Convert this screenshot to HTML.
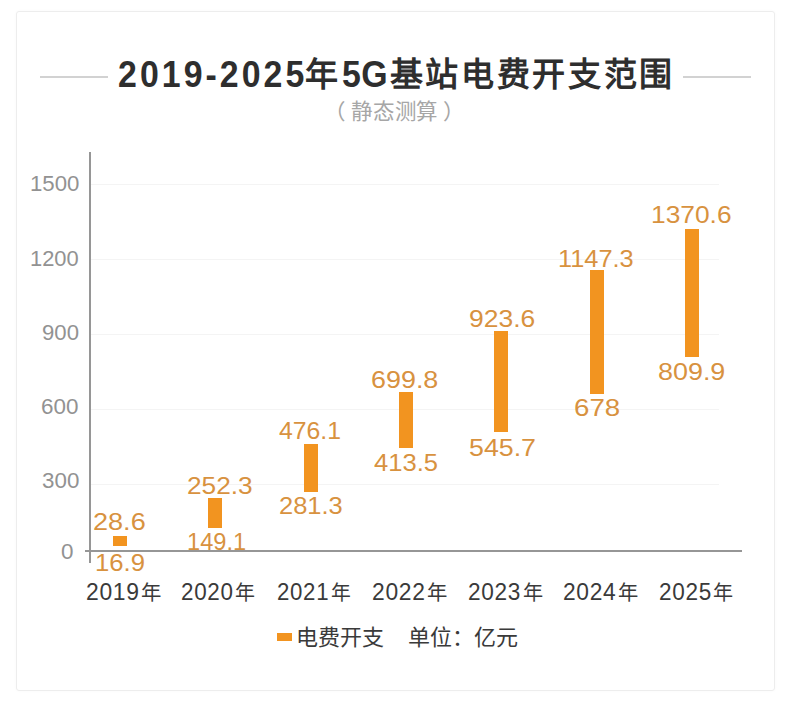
<!DOCTYPE html>
<html lang="zh-CN">
<head>
<meta charset="utf-8">
<style>
html,body{margin:0;padding:0;background:#fff;}
body{width:800px;height:707px;position:relative;overflow:hidden;font-family:"Liberation Sans",sans-serif;}
.a{position:absolute;white-space:nowrap;line-height:1;}
.card{position:absolute;left:16px;top:11px;width:757px;height:678px;border:1px solid #ededed;border-radius:3px;box-shadow:0 0 3px rgba(0,0,0,0.03);}
.tl{position:absolute;height:2px;background:#d2d2d2;}
.title{font-size:33px;font-weight:bold;color:#2e2e2e;letter-spacing:2.7px;}
.tdig{font-size:36px;letter-spacing:2.6px;transform-origin:0 0;transform:scaleX(0.94);}
.sub{font-size:21.5px;color:#a6a6a6;}
.grid{position:absolute;left:91px;width:628px;height:1px;background:#f4f4f4;}
.yl{font-size:22px;color:#929292;transform-origin:0 0;}
.bar{position:absolute;width:14px;background:#f29420;}
.v{font-size:23px;color:#d8923f;transform-origin:0 0;}
.xl{font-size:23px;color:#3a3a3a;transform-origin:0 0;letter-spacing:0.7px;}
.n{font-size:20.5px;margin-left:1.6px;letter-spacing:0;}
.lg{font-size:22px;color:#3a3a3a;}
</style>
</head>
<body>
<div class="card"></div>
<div class="tl" style="left:40px;top:76px;width:68px;"></div>
<div class="tl" style="left:683px;top:76px;width:68px;"></div>
<div class="a title tdig" style="left:117.5px;top:57px;letter-spacing:3.25px;">2019-2025</div>
<div class="a title" style="left:305px;top:58px;">年</div>
<div class="a title tdig" style="left:341.5px;top:57px;letter-spacing:0.5px;">5G</div>
<div class="a title" style="left:389.5px;top:58px;">基站电费开支范围</div>
<div class="a sub" style="left:324px;top:101.5px;">（</div>
<div class="a sub" style="left:351px;top:101.5px;letter-spacing:-0.2px;">静态测算</div>
<div class="a sub" style="left:443px;top:101.5px;">）</div>

<div class="grid" style="top:184px;"></div>
<div class="grid" style="top:259px;"></div>
<div class="grid" style="top:334px;"></div>
<div class="grid" style="top:409px;"></div>
<div class="grid" style="top:484px;"></div>

<div style="position:absolute;left:89px;top:152px;width:2px;height:411px;background:#969696;"></div>
<div style="position:absolute;left:85px;top:550px;width:657px;height:2px;background:#969696;"></div>

<!-- bars -->
<div class="bar" style="left:113px;top:536px;height:10px;"></div>
<div class="bar" style="left:208px;top:498px;height:30px;"></div>
<div class="bar" style="left:304px;top:444px;height:48px;"></div>
<div class="bar" style="left:399px;top:392px;height:56px;"></div>
<div class="bar" style="left:494px;top:331px;height:101px;"></div>
<div class="bar" style="left:590px;top:270px;height:124px;"></div>
<div class="bar" style="left:685px;top:229px;height:128px;"></div>

<!-- value labels -->
<div class="a v" style="left:93.3px;top:510.5px;transform:scaleX(1.177);">28.6</div>
<div class="a v" style="left:94.7px;top:551.7px;transform:scaleX(1.117);">16.9</div>
<div class="a v" style="left:186.6px;top:474.8px;transform:scaleX(1.141);">252.3</div>
<div class="a v" style="left:186.7px;top:531.1px;transform:scaleX(1.027);">149.1</div>
<div class="a v" style="left:278.8px;top:419.6px;transform:scaleX(1.077);">476.1</div>
<div class="a v" style="left:278.8px;top:494.6px;transform:scaleX(1.107);">281.3</div>
<div class="a v" style="left:371.3px;top:368.5px;transform:scaleX(1.170);">699.8</div>
<div class="a v" style="left:373.5px;top:452.3px;transform:scaleX(1.112);">413.5</div>
<div class="a v" style="left:468.6px;top:307.7px;transform:scaleX(1.150);">923.6</div>
<div class="a v" style="left:468.5px;top:436.6px;transform:scaleX(1.164);">545.7</div>
<div class="a v" style="left:557.8px;top:247.5px;transform:scaleX(1.103);">1147.3</div>
<div class="a v" style="left:573.8px;top:397.1px;transform:scaleX(1.203);">678</div>
<div class="a v" style="left:651.0px;top:204.0px;transform:scaleX(1.145);">1370.6</div>
<div class="a v" style="left:658.2px;top:360.7px;transform:scaleX(1.170);">809.9</div>
<!-- y labels -->
<div class="a yl" style="left:30.1px;top:173.0px;transform:scaleX(1.011);">1500</div>
<div class="a yl" style="left:30.1px;top:247.6px;transform:scaleX(0.996);">1200</div>
<div class="a yl" style="left:41.5px;top:321.8px;transform:scaleX(1.007);">900</div>
<div class="a yl" style="left:41.0px;top:396.2px;transform:scaleX(1.020);">600</div>
<div class="a yl" style="left:41.5px;top:469.7px;transform:scaleX(1.017);">300</div>
<div class="a yl" style="left:61.0px;top:541.2px;transform:scaleX(1.020);">0</div>
<!-- x labels -->
<div class="a xl" style="left:86.0px;top:581.4px;transform:scaleX(0.995);">2019<span class="n">年</span></div>
<div class="a xl" style="left:181.4px;top:581.4px;transform:scaleX(0.975);">2020<span class="n">年</span></div>
<div class="a xl" style="left:277.3px;top:581.4px;transform:scaleX(0.967);">2021<span class="n">年</span></div>
<div class="a xl" style="left:372.0px;top:581.4px;transform:scaleX(0.993);">2022<span class="n">年</span></div>
<div class="a xl" style="left:467.8px;top:581.4px;transform:scaleX(0.983);">2023<span class="n">年</span></div>
<div class="a xl" style="left:562.8px;top:581.4px;transform:scaleX(0.990);">2024<span class="n">年</span></div>
<div class="a xl" style="left:658.5px;top:581.4px;transform:scaleX(0.980);">2025<span class="n">年</span></div>
<!-- legend -->
<div style="position:absolute;left:277px;top:633px;width:15px;height:8px;background:#f29420;"></div>
<div class="a lg" style="left:296.1px;top:626.5px;">电费开支</div>
<div class="a lg" style="left:407.5px;top:626.5px;">单位：亿元</div>
</body>
</html>
